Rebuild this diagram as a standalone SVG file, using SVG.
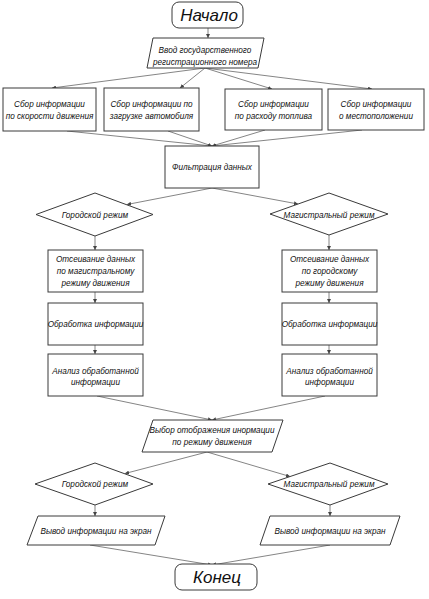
<svg xmlns="http://www.w3.org/2000/svg" width="429" height="599" viewBox="0 0 429 599">
<style>
.n{fill:#fff;stroke:#3a3a3a;stroke-width:1}
.c{fill:none;stroke:#777;stroke-width:0.9;marker-end:url(#a)}
text{font-family:"Liberation Sans",Arial,sans-serif;font-style:italic;font-size:8.2px;fill:#111;text-anchor:middle}
.big{font-size:17px}
</style>
<defs>
<marker id="a" viewBox="0 0 6 6" refX="6" refY="3" markerWidth="4" markerHeight="4" orient="auto" markerUnits="userSpaceOnUse">
<path d="M0,0L6,3L0,6z" fill="#444"/>
</marker>
</defs>
<rect width="429" height="599" fill="#fff"/>
<g id="connectors">
<path class="c" d="M208,28V38"/>
<path class="c" d="M205,68L52,88"/>
<path class="c" d="M205,68L180,88"/>
<path class="c" d="M205,68L272,89"/>
<path class="c" d="M205,68L372,89"/>
<path class="c" d="M67,131L212,146"/>
<path class="c" d="M168,131L212,146"/>
<path class="c" d="M265,130L212,146"/>
<path class="c" d="M362,130L212,146"/>
<path class="c" d="M212,188L127,204.5"/>
<path class="c" d="M212,188L298,204"/>
<path class="c" d="M95,236V250"/>
<path class="c" d="M329,235V250"/>
<path class="c" d="M95,292V303"/>
<path class="c" d="M329,292V303"/>
<path class="c" d="M95,345V354"/>
<path class="c" d="M329,345V354"/>
<path class="c" d="M97,396L212,420"/>
<path class="c" d="M325,396L212,420"/>
<path class="c" d="M207,452L125,473.5"/>
<path class="c" d="M207,452L290,476.5"/>
<path class="c" d="M95,505V516"/>
<path class="c" d="M330,505V516"/>
<path class="c" d="M90,545L212,565"/>
<path class="c" d="M330,545L212,565"/>
</g>
<g id="start"><rect class="n" x="172" y="2" width="71" height="26" rx="7"/><text class="big" x="209" y="21">Начало</text></g>
<g id="input"><path class="n" d="M153,38H264L258,68H147Z"/><text x="205" y="53">Ввод государственного</text><text x="205" y="65">регистрационного номера</text></g>
<g id="speed"><rect class="n" x="3" y="88" width="93" height="43"/><text x="49.5" y="107">Сбор информации</text><text x="49.5" y="119">по скорости движения</text></g>
<g id="load"><rect class="n" x="104" y="88" width="95" height="43"/><text x="151.5" y="107">Сбор информации по</text><text x="151.5" y="119">загрузке автомобиля</text></g>
<g id="fuel"><rect class="n" x="225" y="89" width="97" height="41"/><text x="273.5" y="107">Сбор информации</text><text x="273.5" y="119">по расходу топлива</text></g>
<g id="location"><rect class="n" x="328" y="89" width="96" height="41"/><text x="376" y="107">Сбор информации</text><text x="376" y="119">о местоположении</text></g>
<g id="filter"><rect class="n" x="165" y="146" width="94" height="42"/><text x="212" y="170">Фильтрация данных</text></g>
<g id="city1"><path class="n" d="M95,193L153,214.5L95,236L36,214.5Z"/><text x="95" y="218">Городской режим</text></g>
<g id="highway1"><path class="n" d="M329,193L388,214L329,235L270,214Z"/><text x="329" y="218">Магистральный режим</text></g>
<g id="sift1"><rect class="n" x="48" y="250" width="95" height="42"/><text x="95.5" y="262">Отсеивание данных</text><text x="95.5" y="274">по магистральному</text><text x="95.5" y="286">режиму движения</text></g>
<g id="sift2"><rect class="n" x="282" y="250" width="95" height="42"/><text x="329.5" y="262">Отсеивание данных</text><text x="329.5" y="274">по городскому</text><text x="329.5" y="286">режиму движения</text></g>
<g id="proc1"><rect class="n" x="48" y="303" width="95" height="42"/><text x="95.5" y="327">Обработка информации</text></g>
<g id="proc2"><rect class="n" x="282" y="303" width="95" height="42"/><text x="329.5" y="327">Обработка информации</text></g>
<g id="anal1"><rect class="n" x="48" y="354" width="95" height="42"/><text x="95.5" y="374">Анализ обработанной</text><text x="95.5" y="385">информации</text></g>
<g id="anal2"><rect class="n" x="282" y="354" width="95" height="42"/><text x="329.5" y="374">Анализ обработанной</text><text x="329.5" y="385">информации</text></g>
<g id="choose"><path class="n" d="M153,420H283L272,452H142Z"/><text x="212" y="433">Выбор отображения инормации</text><text x="212" y="445">по режиму движения</text></g>
<g id="city2"><path class="n" d="M95,463L153,484L95,505L35,484Z"/><text x="95" y="487">Городской режим</text></g>
<g id="highway2"><path class="n" d="M330,463L388,484L330,505L268,484Z"/><text x="329" y="487">Магистральный режим</text></g>
<g id="out1"><path class="n" d="M38,516H165L155,545H27Z"/><text x="96" y="534">Вывод информации на экран</text></g>
<g id="out2"><path class="n" d="M270,516H400L390,545H260Z"/><text x="330" y="534">Вывод информации на экран</text></g>
<g id="end"><rect class="n" x="175" y="564" width="82" height="26" rx="7"/><text class="big" x="217" y="583">Конец</text></g>
</svg>
